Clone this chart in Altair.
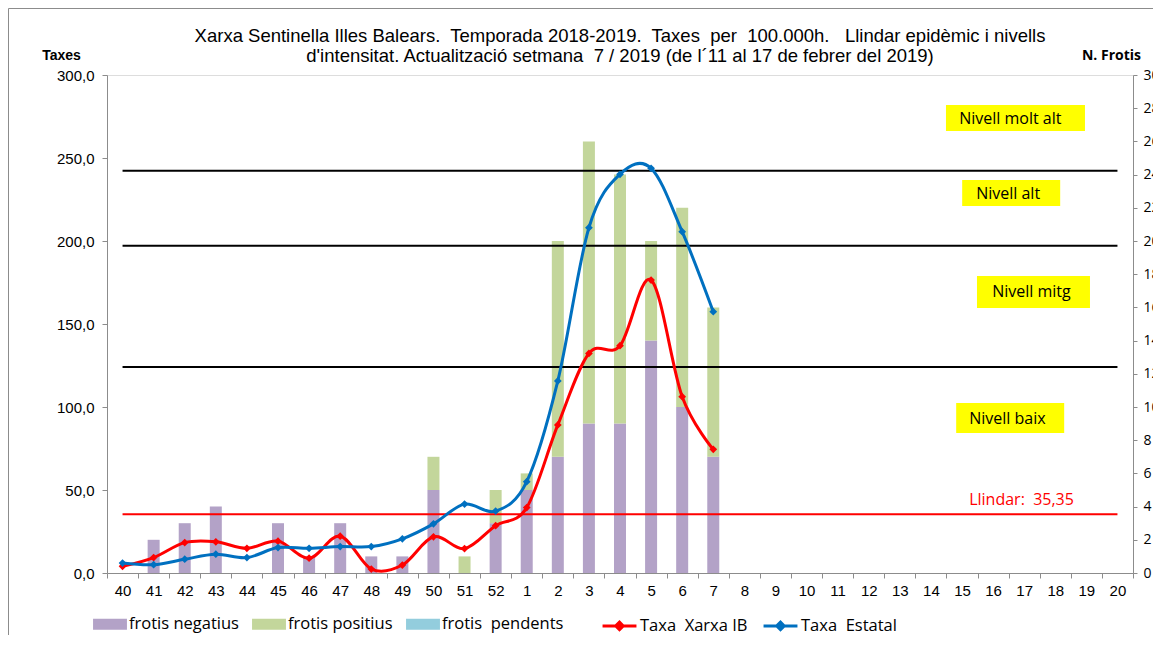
import altair as alt
import pandas as pd

# ---------------- data ----------------
weeks = ['40', '41', '42', '43', '44', '45', '46', '47', '48', '49', '50', '51', '52',
         '1', '2', '3', '4', '5', '6', '7', '8', '9', '10', '11', '12', '13', '14',
         '15', '16', '17', '18', '19', '20']
data_weeks = weeks[:20]

frotis_negatius = [0, 2, 3, 4, 0, 3, 1, 3, 1, 1, 5, 0, 3, 5, 7, 9, 9, 14, 10, 7]
frotis_positius = [0, 0, 0, 0, 0, 0, 0, 0, 0, 0, 2, 1, 2, 1, 13, 17, 15, 6, 12, 9]
frotis_pendents = [0] * 20

taxa_xarxa_ib = [4.0, 9.3, 18.3, 18.8, 14.9, 19.2, 8.9, 22.2, 2.4, 4.8, 21.8, 14.7,
                 28.5, 39.4, 89.2, 132.3, 136.9, 176.5, 106.2, 74.5]
taxa_estatal = [6.0, 5.0, 8.3, 11.3, 9.3, 15.3, 14.9, 15.9, 15.9, 20.6, 29.6, 41.5,
                37.3, 55.0, 115.7, 208.0, 240.2, 243.8, 205.6, 157.4]

nivells = [242.3, 197.2, 124.1]
llindar = 35.35

NB = '\u00a0'
bar_series = ['frotis negatius', 'frotis positius', 'frotis' + NB + ' pendents']
bar_colors = ['#B3A2C7', '#C3D69B', '#93CDDD']
line_series = ['Taxa' + NB + ' Xarxa IB', 'Taxa' + NB + ' Estatal']
line_colors = ['#FF0000', '#0070C0']

title_lines = ["Xarxa Sentinella Illes Balears." + NB + " Temporada 2018-2019." + NB + " Taxes" + NB + " per" + NB
               + " 100.000h." + NB + NB + " Llindar epidèmic i nivells",
               "d'intensitat. Actualització setmana" + NB + " 7 / 2019 (de l´11 al 17 de febrer del 2019)"]

# ---------------- tables ----------------
bars_rows = []
for i, w in enumerate(data_weeks):
    for k, vals in enumerate([frotis_negatius, frotis_positius, frotis_pendents]):
        bars_rows.append({'week': w, 'serie': bar_series[k], 'n': vals[i], 'ord': k})
bars_df = pd.DataFrame(bars_rows)

lines_rows = []
for i, w in enumerate(data_weeks):
    lines_rows.append({'week': w, 'serie': line_series[0], 'v': taxa_xarxa_ib[i]})
    lines_rows.append({'week': w, 'serie': line_series[1], 'v': taxa_estatal[i]})
lines_df = pd.DataFrame(lines_rows)

levels_df = pd.DataFrame({'x0': [weeks[0]] * len(nivells), 'x1': [weeks[-1]] * len(nivells), 'v': nivells})
thr_df = pd.DataFrame({'x0': [weeks[0]], 'x1': [weeks[-1]], 'v': [llindar]})

LAB_FONT = 'Liberation Sans'
CAL_FONT = 'Open Sans'

xscale = alt.Scale(domain=weeks, paddingInner=0, paddingOuter=0)
x_axis = alt.Axis(title=None, labelAngle=0, tickBand='extent', labelFont=LAB_FONT,
                  labelFontSize=15, labelColor='black', domainColor='#8c8c8c',
                  tickColor='#8c8c8c', tickSize=5, labelPadding=5, grid=False)


def xenc(field):
    return alt.X(f'{field}:O', scale=xscale, axis=x_axis, sort=None)


yleft_scale = alt.Scale(domain=[0, 300], nice=False)
yright_scale = alt.Scale(domain=[0, 30], nice=False)

left_axis = alt.Axis(orient='left', values=list(range(0, 301, 50)),
                     labelExpr="replace(format(datum.value, '.1f'), '.', ',')",
                     title='Taxes', titleAngle=0, titleX=-46, titleY=-20,
                     titleAlign='center', titleBaseline='middle', titleFont=LAB_FONT,
                     titleFontSize=14, titleFontWeight='bold', titleColor='black',
                     labelFont=LAB_FONT, labelFontSize=15, labelColor='black',
                     domainColor='#8c8c8c', tickColor='#8c8c8c', tickSize=5,
                     labelPadding=8, grid=False)


def yl(field):
    return alt.Y(f'{field}:Q', scale=yleft_scale, axis=left_axis)


bar_legend = alt.Legend(
    title=None, orient='none', legendX=-14, legendY=532, direction='horizontal',
    symbolSize=1150, symbolType='M-1,-0.32H1V0.32H-1Z', symbolStrokeWidth=0,
    symbolOpacity=1, labelFont=CAL_FONT, labelFontSize=16.5, labelColor='black',
    columnPadding=13, labelOffset=2, labelLimit=300)
line_legend = alt.Legend(
    title=None, orient='none', legendX=494, legendY=532, direction='horizontal',
    symbolSize=1150, symbolType='M-1,0H1M-0.22,0L0,-0.22L0.22,0L0,0.22Z',
    symbolStrokeWidth=3, symbolOpacity=1, labelFont=CAL_FONT, labelFontSize=16.5,
    labelColor='black', columnPadding=9, labelOffset=2, labelLimit=300)

bar_scale = alt.Scale(domain=bar_series, range=bar_colors)
line_scale = alt.Scale(domain=line_series, range=line_colors)

# ---------------- bars (right axis) ----------------
bars = alt.Chart(bars_df).mark_bar(size=12).encode(
    x=xenc('week'),
    y=alt.Y('n:Q', stack='zero', scale=yright_scale,
            axis=alt.Axis(orient='right', values=list(range(0, 31, 2)), format='d',
                          title='N. Frotis', titleAngle=0, titleX=-22, titleY=-20,
                          titleAlign='center', titleBaseline='middle', titleFont=CAL_FONT,
                          titleFontSize=14, titleFontWeight='bold', titleColor='black',
                          labelFont=CAL_FONT, labelFontSize=14, labelColor='black',
                          domainColor='#8c8c8c', tickColor='#8c8c8c', tickSize=4,
                          labelPadding=6, grid=False)),
    color=alt.Color('serie:N', scale=bar_scale, legend=bar_legend),
    order=alt.Order('ord:Q'),
)

# ---------------- left axis layers ----------------
levels = alt.Chart(levels_df).mark_rule(color='black', strokeWidth=2).encode(
    x=xenc('x0'), x2='x1', y=yl('v'))

threshold = alt.Chart(thr_df).mark_rule(color='#FF0000', strokeWidth=2).encode(
    x=xenc('x0'), x2='x1', y=yl('v'))

lines = alt.Chart(lines_df).mark_line(interpolate='cardinal', strokeWidth=3).encode(
    x=xenc('week'), y=yl('v'),
    stroke=alt.Stroke('serie:N', scale=line_scale, legend=line_legend),
)
points = alt.Chart(lines_df).mark_point(shape='diamond', filled=True, size=60, opacity=1).encode(
    x=xenc('week'), y=yl('v'),
    fill=alt.Fill('serie:N', scale=line_scale, legend=line_legend),
)

anchor_df = pd.DataFrame({'x0': ['17']})
# (label, y_bottom, y_top, box width px, box x offset px, text dx px, text y)
boxes_spec = [
    ('Nivell molt alt', 266.3, 281.9, 139, -8.7, -65, 273.5),
    ('Nivell alt', 221.1, 236.7, 98, -13.0, -48, 228.5),
    ('Nivell mitg', 159.6, 178.9, 113, 9.3, -32, 169.0),
    ('Nivell baix', 84.3, 102.4, 108, -14.0, -55, 93.0),
]
annot = []
for lab, yb, yt, w, xo, tdx, ty in boxes_spec:
    bdf = anchor_df.assign(yb=yb, yt=yt, ty=ty, lab=lab)
    annot.append(alt.Chart(bdf).mark_bar(size=w, xOffset=xo, color='#FFFF00').encode(
        x=xenc('x0'), y=yl('yb'), y2='yt'))
    annot.append(alt.Chart(bdf).mark_text(align='left', baseline='middle', dx=tdx,
                                          font=CAL_FONT, fontSize=16, color='black').encode(
        x=xenc('x0'), y=yl('ty'), text='lab:N'))

ll_df = anchor_df.assign(ty=44.0, lab='Llindar:' + NB + ' 35,35')
llindar_text = alt.Chart(ll_df).mark_text(align='left', baseline='middle', dx=-55,
                                         font=CAL_FONT, fontSize=16, color='#FF0000').encode(
    x=xenc('x0'), y=yl('ty'), text='lab:N')

# outer chart-area frame (decoration, like the spreadsheet chart border)
frame_df = pd.DataFrame({'k': [0]})
frame = alt.Chart(frame_df).mark_rect(fill=None, stroke='#8c8c8c', strokeWidth=1).encode(
    x=alt.value(-98.5), x2=alt.value(1200), y=alt.value(-66.5), y2=alt.value(700))

inner = alt.layer(frame, levels, threshold, *annot, llindar_text, lines, points)

chart = alt.layer(bars, inner).resolve_scale(y='independent').properties(
    width=1026, height=498,
    autosize=alt.AutoSizeParams(type='none'),
    padding={'left': 99, 'top': 67, 'right': 20, 'bottom': 62},
    title=alt.TitleParams(text=title_lines, font=LAB_FONT,
                          fontSize=18.5, fontWeight='normal', color='black', anchor='middle',
                          frame='group', lineHeight=20, offset=-57),
).configure_view(strokeWidth=0).configure(background='white')

chart.save('out.html', embed_options={'renderer': 'svg', 'actions': False})
